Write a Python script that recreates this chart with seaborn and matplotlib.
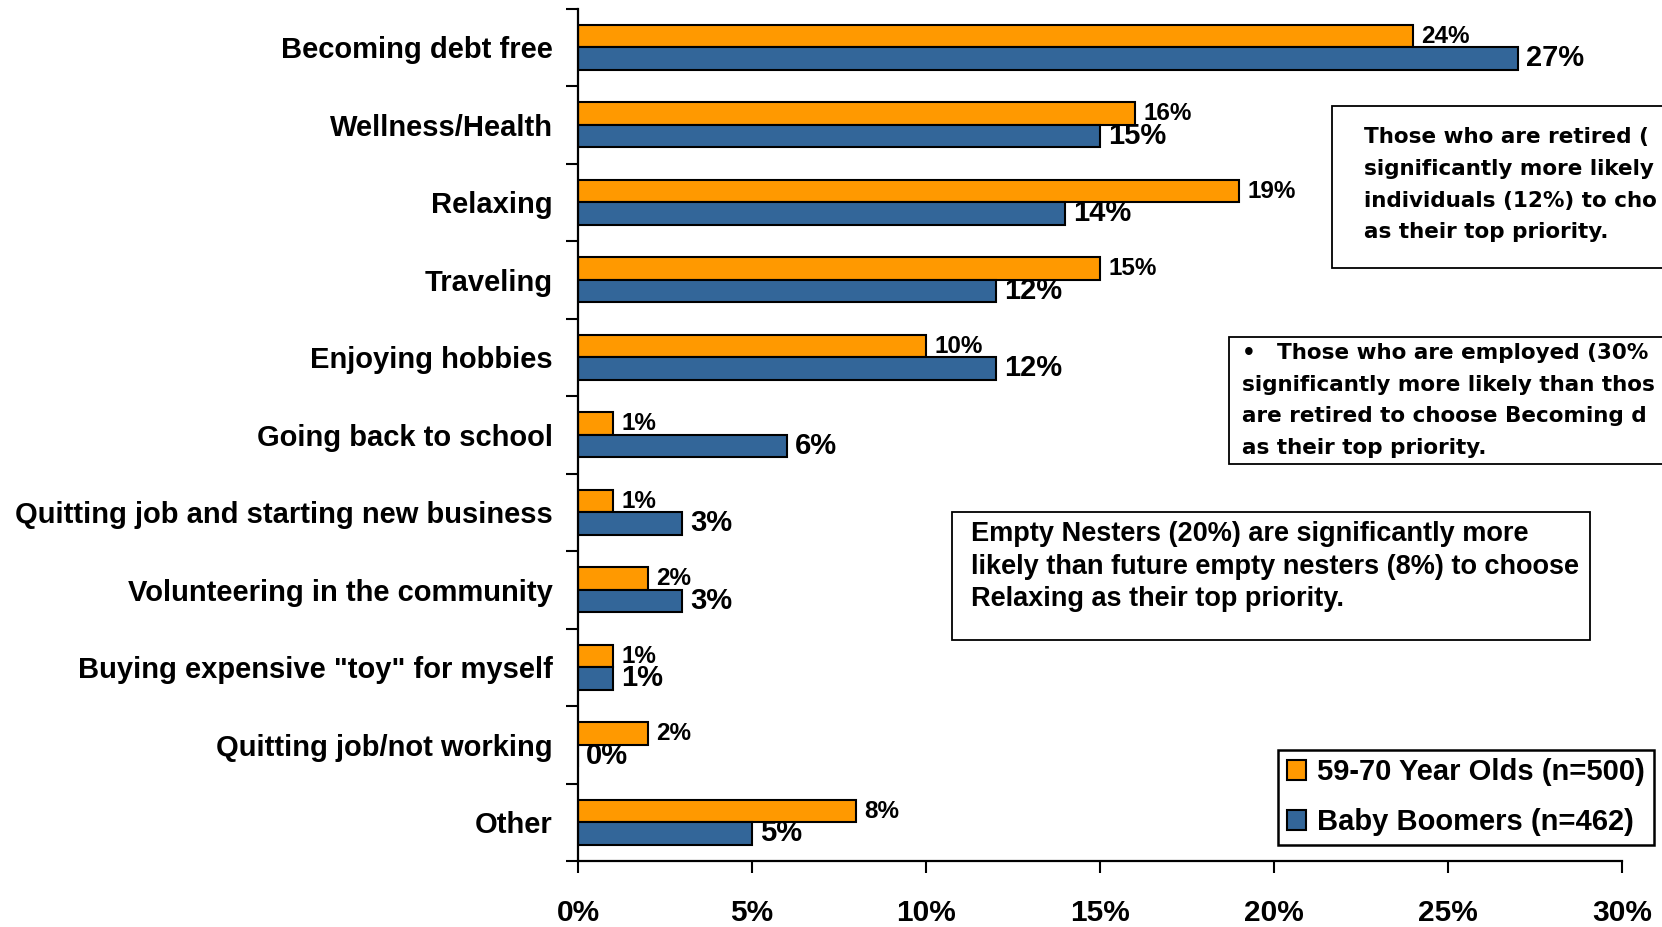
"""Top priority in retirement: 59-70 year olds vs baby boomers, horizontal grouped bars"""
# %% Imports
import pandas as pd
import seaborn as sns
from matplotlib import pyplot as plt
from matplotlib import font_manager
from matplotlib.patches import Rectangle
from matplotlib.ticker import FixedLocator

# %% Data
categories = [
    "Becoming debt free",
    "Wellness/Health",
    "Relaxing",
    "Traveling",
    "Enjoying hobbies",
    "Going back to school",
    "Quitting job and starting new business",
    "Volunteering in the community",
    'Buying expensive "toy" for myself',
    "Quitting job/not working",
    "Other",
]
groups = ["59-70 Year Olds (n=500)", "Baby Boomers (n=462)"]
olds_pct = [24, 16, 19, 15, 10, 1, 1, 2, 1, 2, 8]
boomers_pct = [27, 15, 14, 12, 12, 6, 3, 3, 1, 0, 5]
x_ticks = [0, 5, 10, 15, 20, 25, 30]
x_tick_labels = [f"{t}%" for t in x_ticks]

# the two right-hand notes run off the edge of the slide in the original
retired_note = [
    "Those who are retired (",
    "significantly more likely",
    "individuals (12%) to cho",
    "as their top priority.",
]
employed_note = [
    "Those who are employed (30%",
    "significantly more likely than thos",
    "are retired to choose Becoming d",
    "as their top priority.",
]
nesters_note = [
    "Empty Nesters (20%) are significantly more",
    "likely than future empty nesters (8%) to choose",
    "Relaxing as their top priority.",
]

# %% Global variables
W, H = 1662, 927
ORANGE = "#FF9900"
BLUE = "#336699"


def fx(px):
    return px / W


def fy(py):
    return 1 - py / H


# %% Plot
sns.set_style("white")
plt.rcParams["font.family"] = ["Liberation Sans", "DejaVu Sans"]
plt.rcParams["font.weight"] = "bold"
for key in ["text.color", "axes.labelcolor", "xtick.color", "ytick.color"]:
    plt.rcParams[key] = "black"
installed = {f.name for f in font_manager.fontManager.ttflist}
narrow = "Liberation Sans Narrow" in installed

df = pd.DataFrame(
    {
        "category": categories * 2,
        "group": [groups[0]] * len(categories) + [groups[1]] * len(categories),
        "value": olds_pct + boomers_pct,
    }
)

fig = plt.figure(figsize=(W / 100, H / 100), dpi=100)
ax = fig.add_axes([fx(578), fy(861), fx(1622) - fx(578), fy(8.5) - fy(861)])
sns.barplot(
    data=df,
    y="category",
    x="value",
    hue="group",
    order=categories,
    hue_order=groups,
    palette=[ORANGE, BLUE],
    saturation=1,
    orient="h",
    width=0.58,
    errorbar=None,
    edgecolor="black",
    linewidth=1.5,
    ax=ax,
)

# bar value labels
ax.bar_label(ax.containers[0], labels=[f"{v}%" for v in olds_pct], padding=6, fontsize=17.5, fontweight="bold")
ax.bar_label(ax.containers[1], labels=[f"{v}%" for v in boomers_pct], padding=6, fontsize=21, fontweight="bold")

# axes styling
ax.set_xlim(0, 30)
ax.set_ylim(len(categories) - 0.5, -0.5)
ax.set_xlabel("")
ax.set_ylabel("")
ax.xaxis.set_major_locator(FixedLocator(x_ticks))
ax.set_xticklabels(x_tick_labels)
tick_font = "Liberation Sans Narrow" if narrow else "Liberation Sans"
tick_size = 25 if narrow else 21.5
for lab in ax.get_xticklabels():
    lab.set_fontfamily(tick_font)
    lab.set_fontsize(tick_size)
    lab.set_fontweight("bold")
ax.tick_params(axis="x", length=8.6, width=1.5, direction="out", pad=19, colors="black", bottom=True)
ax.set_yticks(range(len(categories)))
ax.set_yticklabels(categories, fontsize=21, fontweight="bold")
ax.tick_params(axis="y", which="major", length=0, pad=18, left=True, labelcolor="black")
ax.yaxis.set_minor_locator(FixedLocator([i - 0.5 for i in range(len(categories) + 1)]))
ax.tick_params(axis="y", which="minor", length=8.6, width=1.5, direction="out", left=True, color="black")
for side in ["top", "right"]:
    ax.spines[side].set_visible(False)
for side in ["left", "bottom"]:
    ax.spines[side].set_color("black")
    ax.spines[side].set_linewidth(1.6)

# legend
handles, labels = ax.get_legend_handles_labels()
ax.get_legend().remove()
leg = ax.legend(
    handles,
    labels,
    loc="lower right",
    bbox_to_anchor=(fx(1654), fy(845)),
    bbox_transform=fig.transFigure,
    fontsize=21,
    frameon=True,
    fancybox=False,
    framealpha=1,
    edgecolor="black",
    handlelength=0.65,
    handleheight=0.65,
    handletextpad=0.4,
    labelspacing=0.75,
    borderpad=0.3,
    borderaxespad=0,
)
leg.get_frame().set_linewidth(1.8)
for t in leg.get_texts():
    t.set_fontweight("bold")
    t.set_color("black")


# annotation boxes
def _note_box(x0, y0, x1, y1, lw=1.3):
    fig.patches.append(
        Rectangle(
            (fx(x0), fy(y1)), fx(x1) - fx(x0), fy(y0) - fy(y1),
            transform=fig.transFigure, fill=True, facecolor="white", edgecolor="black", linewidth=lw, zorder=3,
        )
    )


_note_box(1332, 106, 1700, 268)
for i, line in enumerate(retired_note):
    fig.text(fx(1364), fy(137 + 31.8 * i), line, fontsize=15.5, fontweight="bold", family="DejaVu Sans", va="center", zorder=4)

_note_box(1229, 337, 1700, 464)
fig.text(fx(1242), fy(353), "\u2022", fontsize=15.5, fontweight="bold", family="DejaVu Sans", va="center", zorder=4)
for i, line in enumerate(employed_note):
    x = 1277 if i == 0 else 1242
    fig.text(fx(x), fy(353 + 31.7 * i), line, fontsize=15.5, fontweight="bold", family="DejaVu Sans", va="center", zorder=4)

_note_box(952, 512, 1590, 640)
for i, line in enumerate(nesters_note):
    fig.text(fx(971), fy(534 + 32.5 * i), line, fontsize=19.5, fontweight="bold", va="center", zorder=4)

fig.savefig("out.png", dpi=100)
